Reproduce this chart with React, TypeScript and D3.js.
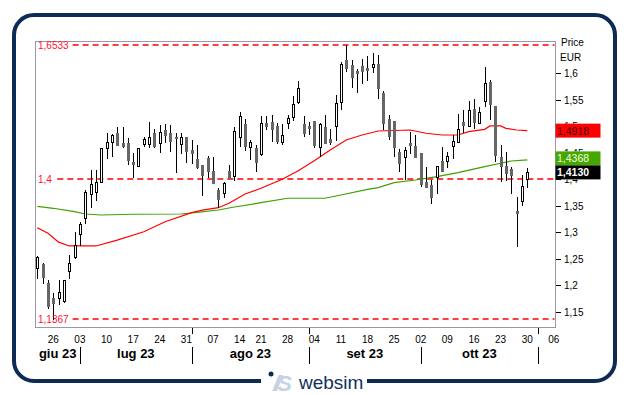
import React from 'react';
import * as d3 from 'd3';

// ---------- data ----------
const dates: string[] = [
  '2023-06-21','2023-06-22','2023-06-23','2023-06-26','2023-06-27','2023-06-28','2023-06-29','2023-06-30',
  '2023-07-03','2023-07-04','2023-07-05','2023-07-06','2023-07-07','2023-07-10','2023-07-11','2023-07-12','2023-07-13','2023-07-14',
  '2023-07-17','2023-07-18','2023-07-19','2023-07-20','2023-07-21','2023-07-24','2023-07-25','2023-07-26','2023-07-27','2023-07-28','2023-07-31',
  '2023-08-01','2023-08-02','2023-08-03','2023-08-04','2023-08-07','2023-08-08','2023-08-09','2023-08-10','2023-08-11','2023-08-14','2023-08-16',
  '2023-08-17','2023-08-18','2023-08-21','2023-08-22','2023-08-23','2023-08-24','2023-08-25','2023-08-28','2023-08-29','2023-08-30','2023-08-31',
  '2023-09-01','2023-09-04','2023-09-05','2023-09-06','2023-09-07','2023-09-08','2023-09-11','2023-09-12','2023-09-13','2023-09-14','2023-09-15',
  '2023-09-18','2023-09-19','2023-09-20','2023-09-21','2023-09-22','2023-09-25','2023-09-26','2023-09-27','2023-09-28','2023-09-29',
  '2023-10-02','2023-10-03','2023-10-04','2023-10-05','2023-10-06','2023-10-09','2023-10-10','2023-10-11','2023-10-12','2023-10-13',
  '2023-10-16','2023-10-17','2023-10-18','2023-10-19','2023-10-20','2023-10-23','2023-10-24','2023-10-25','2023-10-26','2023-10-27','2023-10-30',
];
const futureDates: string[] = ['2023-10-31', '2023-11-01', '2023-11-02', '2023-11-03', '2023-11-06'];

const open: number[] = [
  1.2321, 1.2396, 1.2049, 1.1755, 1.1766, 1.1704, 1.2275, 1.2540, 1.2962, 1.3264,
  1.3717, 1.3766, 1.3943, 1.4585, 1.4709, 1.4879, 1.4691, 1.4691, 1.4332, 1.4257,
  1.4660, 1.4666, 1.4879, 1.4679, 1.4930, 1.4868, 1.4792, 1.4660, 1.4804, 1.4553,
  1.4383, 1.4270, 1.4408, 1.4157, 1.3798, 1.3736, 1.4157, 1.4062, 1.4792, 1.5043,
  1.4615, 1.4596, 1.4477, 1.5057, 1.5087, 1.5006, 1.4698, 1.5068, 1.5181, 1.5464,
  1.5043, 1.5006, 1.5100, 1.4604, 1.4981, 1.4755, 1.5011, 1.5453, 1.6251, 1.6157,
  1.6043, 1.6138, 1.6100, 1.6125, 1.6175, 1.5634, 1.5138, 1.5100, 1.4521, 1.4415,
  1.4679, 1.4628, 1.4491, 1.3955, 1.3892, 1.4038, 1.4345, 1.4351, 1.4628, 1.4709,
  1.5087, 1.5011, 1.5326, 1.5068, 1.5483, 1.5842, 1.5389, 1.4426, 1.4251, 1.4194,
  1.3402, 1.3596, 1.4000,
];
const high: number[] = [
  1.2553, 1.2415, 1.2100, 1.1849, 1.2100, 1.2100, 1.2572, 1.3011, 1.3200, 1.3798,
  1.4175, 1.4175, 1.4585, 1.4868, 1.4849, 1.4992, 1.4992, 1.4774, 1.4491, 1.4585,
  1.4804, 1.5087, 1.4943, 1.5025, 1.5043, 1.5025, 1.4879, 1.4879, 1.4804, 1.4742,
  1.4647, 1.4270, 1.4440, 1.4426, 1.3842, 1.3943, 1.4270, 1.4981, 1.5275, 1.5138,
  1.4742, 1.4647, 1.5194, 1.5194, 1.5213, 1.5057, 1.5043, 1.5213, 1.5572, 1.5855,
  1.5194, 1.5087, 1.5100, 1.5068, 1.5213, 1.4943, 1.5591, 1.6219, 1.6533, 1.6251,
  1.6075, 1.6264, 1.6326, 1.6377, 1.6345, 1.5672, 1.5213, 1.5100, 1.4566, 1.4615,
  1.4887, 1.4830, 1.4502, 1.4226, 1.3987, 1.4251, 1.4615, 1.4521, 1.4836, 1.5232,
  1.5308, 1.5477, 1.5509, 1.5370, 1.6125, 1.5874, 1.5389, 1.4647, 1.4509, 1.4226,
  1.3672, 1.4081, 1.4208,
];
const low: number[] = [
  1.2132, 1.2038, 1.1572, 1.1367, 1.1640, 1.1680, 1.2132, 1.2509, 1.2760, 1.3181,
  1.3483, 1.3609, 1.3943, 1.4396, 1.4445, 1.4647, 1.4615, 1.4289, 1.4049, 1.4257,
  1.4628, 1.4615, 1.4615, 1.4521, 1.4709, 1.4540, 1.4143, 1.4491, 1.4332, 1.4313,
  1.4208, 1.3713, 1.4049, 1.3925, 1.3483, 1.3672, 1.4030, 1.3987, 1.4628, 1.4553,
  1.4389, 1.4162, 1.4458, 1.4943, 1.4728, 1.4691, 1.4666, 1.4962, 1.5119, 1.5434,
  1.4817, 1.4855, 1.4604, 1.4440, 1.4691, 1.4666, 1.4742, 1.5326, 1.6049, 1.5747,
  1.5653, 1.5823, 1.5874, 1.6030, 1.5528, 1.4943, 1.4755, 1.4440, 1.4162, 1.4000,
  1.4491, 1.4426, 1.3874, 1.3860, 1.3558, 1.3747, 1.4157, 1.4226, 1.4396, 1.4709,
  1.4898, 1.5011, 1.4962, 1.5068, 1.5389, 1.5138, 1.4351, 1.3974, 1.3987, 1.3747,
  1.2747, 1.3515, 1.3849,
];
const close: number[] = [
  1.2528, 1.2162, 1.1609, 1.1672, 1.1874, 1.2091, 1.2415, 1.2760, 1.3157, 1.3766,
  1.3906, 1.3943, 1.4585, 1.4698, 1.4836, 1.4647, 1.4634, 1.4364, 1.4283, 1.4585,
  1.4755, 1.4792, 1.4628, 1.4898, 1.4836, 1.4728, 1.4780, 1.4792, 1.4534, 1.4502,
  1.4238, 1.4081, 1.4162, 1.3936, 1.3623, 1.3925, 1.4030, 1.4911, 1.5194, 1.4628,
  1.4698, 1.4332, 1.5057, 1.5006, 1.4943, 1.4728, 1.4836, 1.5151, 1.5415, 1.5717,
  1.4879, 1.4974, 1.4647, 1.5038, 1.4691, 1.4709, 1.5434, 1.6175, 1.6094, 1.5925,
  1.6011, 1.6049, 1.6068, 1.6175, 1.5717, 1.5068, 1.4817, 1.4604, 1.4313, 1.4553,
  1.4653, 1.4426, 1.3906, 1.3860, 1.3672, 1.4251, 1.4157, 1.4440, 1.4723, 1.4943,
  1.5025, 1.5308, 1.5087, 1.5275, 1.5823, 1.5421, 1.4458, 1.4251, 1.4125, 1.4081,
  1.3358, 1.3874, 1.4130,
];

// moving averages: [candle index, value]
const maRed: [number, number][] = [
  [0, 1.3087], [2, 1.2981], [4, 1.2815], [6, 1.2742], [11, 1.2742], [15, 1.2853], [20, 1.3011],
  [24, 1.3200], [29, 1.3370], [31, 1.3419], [34, 1.3464], [36, 1.3547], [39, 1.3723], [42, 1.3830],
  [46, 1.4000], [49, 1.4160], [52, 1.4351], [55, 1.4553], [58, 1.4742], [61, 1.4835], [64, 1.4911],
  [70, 1.4930], [73, 1.4868], [76, 1.4836], [79, 1.4836], [81, 1.4898], [84, 1.4943], [85, 1.5006],
  [87, 1.5006], [88, 1.4962], [90, 1.4930], [92, 1.4918],
];
const maGreen: [number, number][] = [
  [0, 1.3490], [3, 1.3453], [7, 1.3389], [9, 1.3345], [12, 1.3326], [18, 1.3340], [27, 1.3345],
  [30, 1.3377], [34, 1.3421], [37, 1.3477], [42, 1.3558], [47, 1.3642], [54, 1.3642], [57, 1.3704],
  [62, 1.3811], [64, 1.3842], [67, 1.3936], [71, 1.3987], [75, 1.4049], [79, 1.4125], [84, 1.4238],
  [87, 1.4302], [89, 1.4345], [92, 1.4368],
];

const refLevels: number[] = [1.6533, 1.4, 1.1367];
const yTicks: number[] = [1.15, 1.2, 1.25, 1.3, 1.35, 1.4, 1.45, 1.5, 1.55, 1.6];
const monthNames: string[] = ['gen', 'feb', 'mar', 'apr', 'mag', 'giu', 'lug', 'ago', 'set', 'ott', 'nov', 'dic'];
const lastRed = 1.4918;
const lastGreen = 1.4368;
const lastClose = 1.4130;

// ---------- helpers ----------
const FONT = 'Liberation Sans, Arial, Helvetica, sans-serif';
const fmt = (v: number, d: number) => {
  let s = v.toFixed(d);
  if (s.indexOf('.') >= 0) s = s.replace(/0+$/, '').replace(/\.$/, '');
  return s.replace('.', ',');
};

export default function App() {
  const W = 629, H = 395;
  const PL = 35.5, PR = 555.5, PT = 41.5, PB = 327.5;

  const allDates = [...dates, ...futureDates].map((s) => new Date(s + 'T00:00:00'));
  const x = d3.scaleLinear().domain([-0.34, 97.34]).range([35.5, 555.7]);
  const y = d3.scaleLinear().domain([1.12, 1.6609]).range([327.7, 41]);

  const line = d3
    .line<[number, number]>()
    .x((d) => x(d[0]))
    .y((d) => y(d[1]));

  const seps: number[] = [];
  allDates.forEach((d, i) => {
    if (i > 0 && d.getMonth() !== allDates[i - 1].getMonth()) seps.push(i);
  });
  const mondays: number[] = [];
  allDates.forEach((d, i) => {
    if (d.getDay() === 1) mondays.push(i);
  });

  const monthSegs: { label: string; cx: number }[] = [];
  const bounds = [PL, ...seps.map((i) => x(i))];
  const starts = [0, ...seps];
  starts.forEach((si, k) => {
    if (si >= dates.length) return;
    const a = bounds[k];
    const b = k + 1 < bounds.length ? bounds[k + 1] : PR;
    const d = allDates[si];
    monthSegs.push({ label: `${monthNames[d.getMonth()]} ${String(d.getFullYear()).slice(2)}`, cx: (a + b) / 2 });
  });

  const BH = 14;
  const boxes = [
    { v: lastRed, fill: '#ff0000', tc: '#3a0000', bold: false },
    { v: lastGreen, fill: '#45a800', tc: '#f2ffe0', bold: false },
    { v: lastClose, fill: '#000000', tc: '#ffffff', bold: true },
  ].map((b) => ({ ...b, top: y(b.v) - BH / 2 }));
  for (let i = boxes.length - 2; i >= 0; i--) {
    if (boxes[i].top + BH > boxes[i + 1].top) boxes[i].top = boxes[i + 1].top - BH;
  }

  const clipRects = boxes.map((b) => ({ y0: b.top, y1: b.top + BH }));

  return (
    <svg
      width={W}
      height={H}
      style={{ position: 'absolute', left: 0, top: 0, background: '#fff', fontFamily: FONT }}
    >
      <defs>
        <clipPath id="tickClip">
          {(() => {
            const ys = clipRects.slice().sort((a, b) => a.y0 - b.y0);
            const bands: { a: number; b: number }[] = [];
            let cur = 0;
            ys.forEach((r) => {
              if (r.y0 > cur) bands.push({ a: cur, b: r.y0 });
              cur = Math.max(cur, r.y1);
            });
            bands.push({ a: cur, b: H });
            return bands.map((bd, k) => <rect key={k} x={PR} y={bd.a} width={W - PR} height={bd.b - bd.a} />);
          })()}
        </clipPath>
      </defs>
      <rect x={0} y={0} width={W} height={H} fill="#fff" />
      <rect x={14} y={15} width={601} height={366} rx={20} ry={20} fill="none" stroke="#0e2b56" strokeWidth={4} />
      <rect x={PL} y={PT} width={PR - PL} height={PB - PT} fill="#fff" stroke="#9a98a8" strokeWidth={1} />

      {/* reference dashed lines */}
      {refLevels.map((v, k) => {
        const yy = Math.round(y(v));
        const lab = fmt(v, 4);
        const start = 38 + lab.length * 5.1 + 4;
        return (
          <path key={'ref' + k} d={`M${start},${yy}H${PR - 1}`} fill="none" stroke="#ff0000" strokeWidth={1.5} strokeDasharray="6 4" />
        );
      })}

      <path d={line(maGreen) || ''} fill="none" stroke="#3fa000" strokeWidth={1.2} />
      <path d={line(maRed) || ''} fill="none" stroke="#ff0000" strokeWidth={1.2} />

      {open.map((o, i) => {
        const c = close[i];
        const cx = Math.round(x(i));
        const yh = Math.round(y(high[i]));
        const yl = Math.round(y(low[i]));
        const up = c >= o;
        const t = Math.round(y(Math.max(o, c)));
        const b = Math.round(y(Math.min(o, c)));
        return (
          <g key={'c' + i}>
            <line x1={cx + 0.5} x2={cx + 0.5} y1={yh} y2={yl + 1} stroke="#000" shapeRendering="crispEdges" />
            {up ? (
              <rect x={cx - 0.5} y={t + 0.5} width={2} height={Math.max(b - t, 1)} fill="#fff" stroke="#000" shapeRendering="crispEdges" />
            ) : (
              <rect x={cx - 1} y={t} width={3} height={Math.max(b - t, 1) + 1} fill="#666" shapeRendering="crispEdges" />
            )}
          </g>
        );
      })}

      {refLevels.map((v, k) => (
        <text key={'rl' + k} x={38} y={Math.round(y(v))} dominantBaseline="central" fontSize={10} fill="#ff1030">
          {fmt(v, 4)}
        </text>
      ))}

      {/* y axis */}
      {yTicks.map((v) => {
        const yy = Math.round(y(v)) + 0.5;
        return <line key={'yt' + v} x1={PR} x2={PR + 5} y1={yy} y2={yy} stroke="#000" shapeRendering="crispEdges" />;
      })}
      <g clipPath="url(#tickClip)">
        {yTicks.map((v) => (
          <text key={'yl' + v} x={564} y={Math.round(y(v)) + 0.5} dominantBaseline="central" fontSize={10} fill="#000">
            {fmt(v, 2)}
          </text>
        ))}
      </g>
      <text x={561} y={46} fontSize={10} fill="#000">Price</text>
      <text x={560} y={61} fontSize={10} fill="#000">EUR</text>

      {boxes.map((b, k) => (
        <g key={'box' + k}>
          <rect x={PR} y={b.top} width={45} height={BH} fill={b.fill} />
          <text x={557} y={b.top + BH / 2} dominantBaseline="central" fontSize={10.5} fill={b.tc} fontWeight={b.bold ? 'bold' : 'normal'}>
            {b.v.toFixed(4).replace('.', ',')}
          </text>
        </g>
      ))}

      {mondays.map((i) => (
        <text key={'d' + i} x={x(i)} y={343} textAnchor="middle" fontSize={10} fill="#000">
          {String(allDates[i].getDate()).padStart(2, '0')}
        </text>
      ))}
      {seps.map((i) => {
        const xx = Math.round(x(i)) + 0.5;
        const hasLabel = mondays.indexOf(i) >= 0;
        return (
          <g key={'s' + i}>
            {!hasLabel && <line x1={xx} x2={xx} y1={PB} y2={334} stroke="#000" shapeRendering="crispEdges" />}
            <line x1={xx} x2={xx} y1={347} y2={364} stroke="#000" strokeWidth={1} shapeRendering="crispEdges" />
          </g>
        );
      })}
      {monthSegs.map((m, k) => (
        <text key={'m' + k} x={m.cx} y={358} textAnchor="middle" fontSize={13} fontWeight="bold" fill="#000">
          {m.label}
        </text>
      ))}

      {/* logo */}
      <rect x={261} y={374} width={106} height={16} fill="#fff" />
      <circle cx={271} cy={374} r={2.5} fill="#0e2b56" />
      <text x={273} y={391} fontSize={22} fontStyle="italic" fontWeight="bold" fill="#c6d3e6" letterSpacing={-4}>
        //S
      </text>
      <text x={299} y={389} fontSize={19} fill="#12305e">
        websim
      </text>
    </svg>
  );
}
